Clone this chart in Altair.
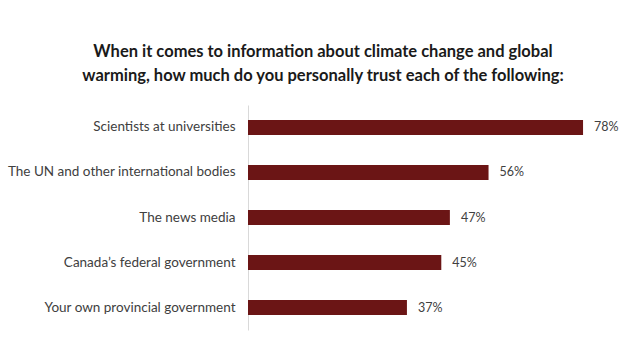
import altair as alt
import pandas as pd

categories = [
    "Scientists at universities",
    "The UN and other international bodies",
    "The news media",
    "Canada\u2019s federal government",
    "Your own provincial government",
]
values = [0.78, 0.56, 0.47, 0.45, 0.37]
labels = ["78%", "56%", "47%", "45%", "37%"]

df = pd.DataFrame({"cat": categories, "val": values, "lab": labels})

FONT = "Lato"
y = alt.Y(
    "cat:N",
    sort=categories,
    title=None,
    scale=alt.Scale(paddingInner=0.667, paddingOuter=0.333),
    axis=alt.Axis(
        domain=True, domainColor="#d9d9d9", domainWidth=1, ticks=False,
        labelFont=FONT, labelFontSize=13.5, labelColor="#404040",
        labelPadding=13, labelLimit=300,
    ),
)
x = alt.X("val:Q", scale=alt.Scale(domain=[0, 0.88]), axis=None)

bars = alt.Chart(df).mark_bar(color="#6b1515").encode(x=x, y=y)
text = alt.Chart(df).mark_text(
    align="left", dx=11, font=FONT, fontSize=12.5, color="#404040"
).encode(x=x, y=y, text="lab:N")

chart = (
    (bars + text)
    .properties(
        width=378,
        height=225,
        autosize=alt.AutoSizeParams(type="none"),
        padding={"left": 248, "top": 105, "right": 9, "bottom": 27},
        title=alt.TitleParams(
            text=[
                "When it comes to information about climate change and global",
                "warming, how much do you personally trust each of the following:",
            ],
            font=FONT, fontSize=16.5, fontWeight="bold", color="#1a1a1a",
            anchor="middle", frame="group", dx=-114, offset=21, lineHeight=24,
        ),
    )
    .configure_view(stroke=None)
)

chart.save("out.html", embed_options={"renderer": "svg", "actions": False})
